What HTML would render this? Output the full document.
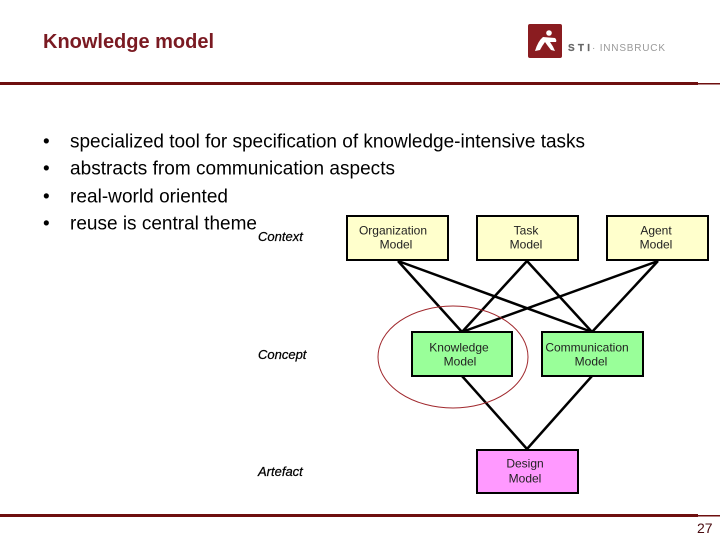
<!DOCTYPE html>
<html><head><meta charset="utf-8"><style>
html,body{margin:0;padding:0;background:#fff}
svg{display:block}
text{font-family:"Liberation Sans",sans-serif}
</style></head><body>
<svg width="720" height="540" viewBox="0 0 720 540" xmlns="http://www.w3.org/2000/svg">
<rect width="720" height="540" fill="#fff"/>
<text x="43" y="48" font-size="20" font-weight="bold" fill="#7a1a22" textLength="171">Knowledge model</text>
<rect x="0" y="82" width="698" height="3" fill="#6e0f0f"/><rect x="698" y="83" width="22" height="1.5" fill="#6e0f0f"/>
<rect x="0" y="514" width="698" height="3" fill="#6e0f0f"/><rect x="698" y="515" width="22" height="1.5" fill="#6e0f0f"/>
<rect x="528" y="24" width="34" height="34" rx="2" fill="#8a1c20"/>
<circle cx="549" cy="33" r="2.8" fill="#fff"/>
<path d="M535 51 Q538 41 543 37 L555 38 Q557 40 556 42 L550 42 Q553 46 555 51 L551 50 Q547 45 545 42 Q542 46 540 50 Z" fill="#fff"/>
<text x="568" y="51" font-size="10" font-weight="bold" fill="#666" stroke="#666" stroke-width=".2" textLength="22">STI</text>
<text x="592" y="51" font-size="10" fill="#999" textLength="73">· INNSBRUCK</text>
<g font-size="19" fill="#000">
<text x="43" y="147.500">•</text><text x="70" y="147.500" textLength="515">specialized tool for specification of knowledge-intensive tasks</text>
<text x="43" y="174.500">•</text><text x="70" y="174.500" textLength="325">abstracts from communication aspects</text>
<text x="43" y="202.500">•</text><text x="70" y="202.500" textLength="158">real-world oriented</text>
<text x="43" y="229.500">•</text><text x="70" y="229.500" textLength="187">reuse is central theme</text>
</g>
<g font-size="13" font-style="italic" fill="#000" stroke="#000" stroke-width=".25">
<text x="258" y="241">Context</text><text x="258" y="359">Concept</text><text x="258" y="476">Artefact</text>
</g>
<g stroke="#000" stroke-width="2.500" fill="none">
<path d="M398 261L462 332M398 261L592 332M527 261L462 332M527 261L592 332M658 261L462 332M658 261L592 332M462 376L527 449M592 376L527 449"/>
</g>
<ellipse cx="453" cy="357" rx="75" ry="51" fill="none" stroke="#a0282d" stroke-width="1"/>
<g stroke="#000" stroke-width="2">
<rect x="347" y="216" width="101" height="44" fill="#ffffcc"/>
<rect x="477" y="216" width="101" height="44" fill="#ffffcc"/>
<rect x="607" y="216" width="101" height="44" fill="#ffffcc"/>
<rect x="412" y="332" width="100" height="44" fill="#99ff99"/>
<rect x="542" y="332" width="101" height="44" fill="#99ff99"/>
<rect x="477" y="450" width="101" height="43" fill="#ff99ff"/>
</g>
<g font-size="12" fill="#222" text-anchor="middle">
<text x="393" y="234.500">Organization</text><text x="396" y="248.500">Model</text>
<text x="526" y="234.500">Task</text><text x="526" y="248.500">Model</text>
<text x="656" y="234.500">Agent</text><text x="656" y="248.500">Model</text>
<text x="459" y="351.500">Knowledge</text><text x="460" y="365.500">Model</text>
<text x="587" y="351.500">Communication</text><text x="591" y="365.500">Model</text>
<text x="525" y="467.500">Design</text><text x="525" y="482.500">Model</text>
</g>
<text x="697" y="533" font-size="14" fill="#4a0c10">27</text>
</svg>
</body></html>
